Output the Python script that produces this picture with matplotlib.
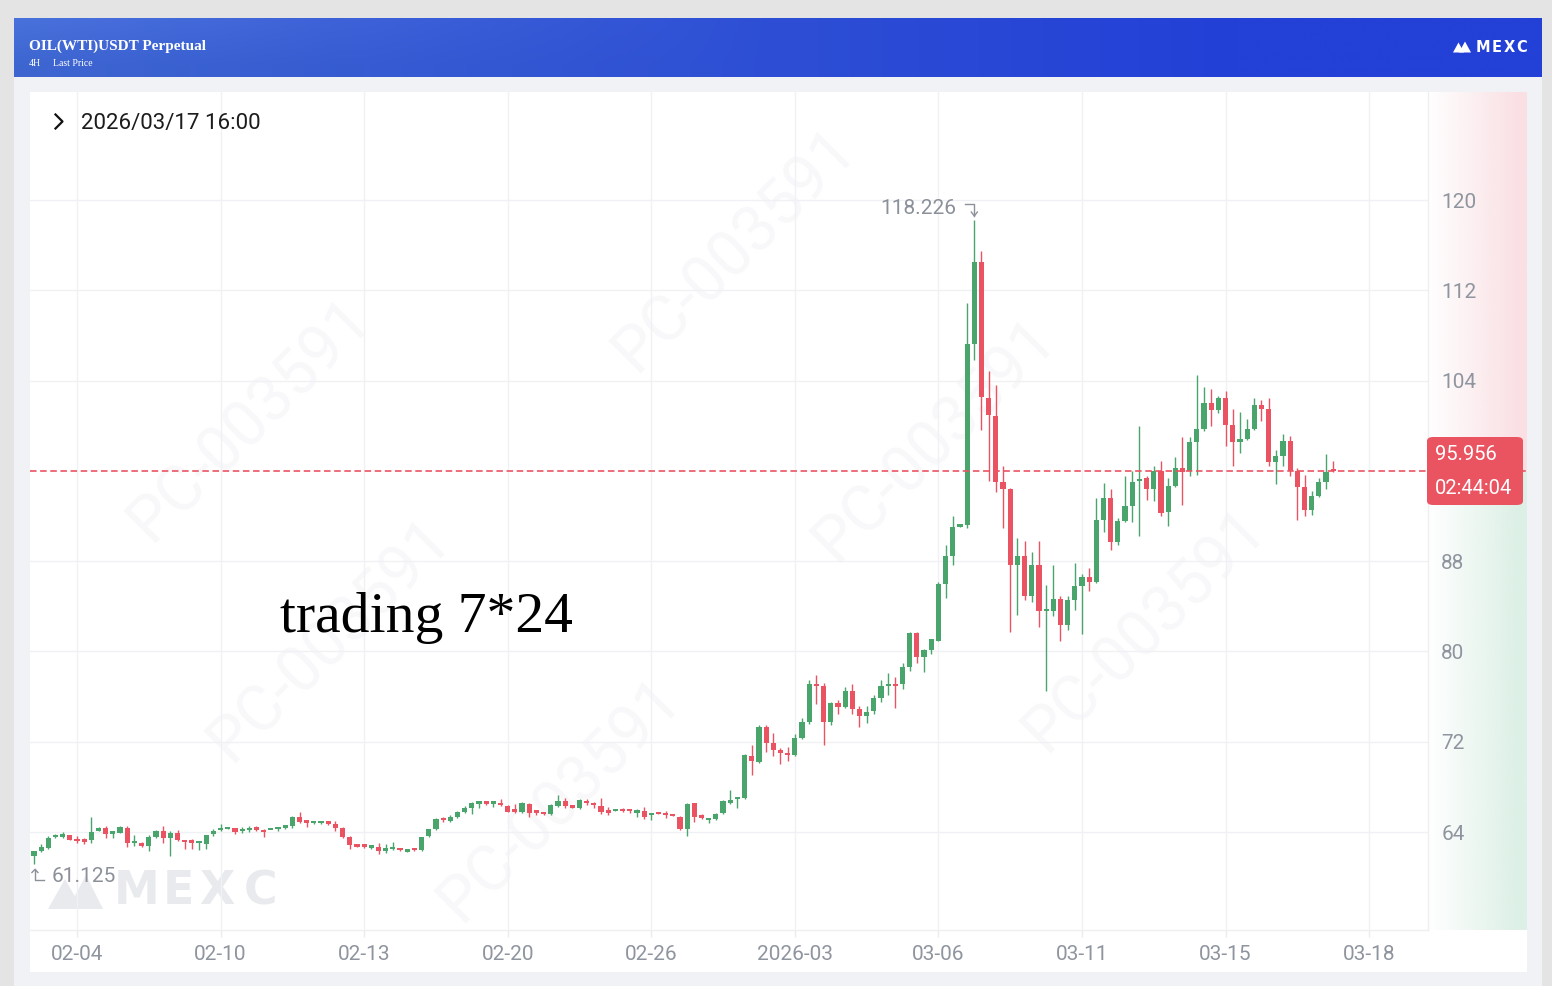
import numpy as np
import matplotlib
matplotlib.use("Agg")
import matplotlib.pyplot as plt
import matplotlib.transforms as mtransforms
from matplotlib.patches import Rectangle, FancyBboxPatch, Polygon
from matplotlib.lines import Line2D

# ---- data (4H candles) ----
opens = [61.85, 61.89, 62.33, 62.56, 63.54, 63.60, 63.71, 63.27, 63.24, 63.27,
         64.10, 64.39, 63.86, 63.95, 64.39, 63.01, 63.07, 62.77, 63.60, 64.10,
         63.45, 63.95, 63.21, 63.27, 63.01, 62.98, 63.80, 64.19, 64.28, 64.33,
         64.10, 64.19, 64.42, 64.10, 64.16, 64.25, 64.39, 64.54, 65.34, 64.89,
         64.78, 64.80, 64.83, 64.75, 64.39, 63.60, 62.77, 62.77, 62.62, 62.65,
         62.33, 62.48, 62.59, 62.27, 62.48, 62.39, 63.66, 64.25, 65.19, 64.98,
         65.37, 65.81, 66.16, 66.52, 66.60, 66.52, 66.60, 66.31, 65.87, 65.81,
         66.46, 65.87, 65.66, 65.57, 66.31, 66.75, 66.25, 66.10, 66.78, 66.46,
         66.31, 65.87, 65.87, 65.96, 65.93, 65.72, 65.87, 65.51, 65.66, 65.57,
         65.48, 65.37, 64.25, 66.55, 65.43, 65.04, 65.19, 65.66, 66.60, 66.90,
         67.05, 70.73, 70.23, 73.30, 71.86, 71.27, 70.88, 70.79, 72.36, 73.74,
         77.08, 76.93, 73.74, 75.46, 75.10, 76.46, 74.87, 74.28, 74.72, 75.84,
         76.96, 77.02, 77.14, 78.64, 81.65, 79.50, 80.09, 80.97, 86.02, 88.49,
         91.06, 91.24, 107.26, 114.54, 102.45, 100.88, 94.98, 94.39, 87.70, 88.49,
         84.90, 87.70, 83.57, 83.57, 84.66, 82.33, 84.54, 85.84, 86.61, 86.16,
         91.68, 93.60, 89.67, 91.53, 92.92, 95.07, 95.37, 94.39, 95.96, 92.33,
         94.69, 96.25, 95.96, 98.52, 99.73, 102.01, 101.36, 102.45, 100.09, 98.52,
         98.82, 99.73, 101.80, 101.50, 96.78, 97.34, 98.61, 95.96, 94.57, 92.51,
         93.75, 95.01, 96.05]
highs = [61.90, 62.36, 62.92, 63.66, 63.80, 64.04, 63.75, 63.66, 63.51, 65.34,
         64.45, 64.54, 64.10, 64.54, 64.51, 63.74, 63.12, 63.71, 64.19, 64.54,
         64.10, 64.19, 63.27, 63.42, 63.21, 63.77, 64.25, 64.69, 64.36, 64.39,
         64.42, 64.54, 64.54, 64.25, 64.22, 64.48, 64.60, 65.43, 65.81, 65.07,
         64.86, 64.86, 64.98, 64.98, 64.48, 63.66, 62.80, 62.92, 62.83, 63.07,
         62.92, 63.12, 62.62, 62.50, 62.50, 63.60, 64.30, 65.28, 65.37, 65.48,
         65.87, 66.31, 66.66, 66.75, 66.75, 66.75, 66.90, 66.40, 66.46, 66.66,
         66.55, 65.96, 65.69, 66.46, 67.25, 67.05, 66.28, 66.96, 66.90, 66.66,
         67.05, 66.25, 65.96, 66.16, 66.07, 66.01, 66.25, 65.72, 65.69, 65.87,
         65.50, 65.43, 66.55, 66.60, 65.57, 65.19, 65.72, 66.84, 67.70, 67.11,
         70.94, 71.68, 73.45, 73.45, 72.80, 71.47, 71.53, 72.65, 74.07, 77.43,
         77.87, 77.23, 75.51, 75.66, 76.87, 77.08, 75.16, 75.16, 76.13, 77.43,
         78.05, 77.73, 79.00, 81.71, 81.71, 80.18, 81.12, 86.13, 89.47, 91.97,
         91.20, 110.86, 118.226, 115.49, 104.81, 103.57, 96.40, 94.50, 90.06, 89.76,
         88.79, 89.76, 85.93, 87.70, 84.90, 84.90, 87.85, 86.90, 87.40, 93.60,
         94.93, 94.39, 91.83, 95.51, 95.96, 99.94, 95.51, 96.46, 96.84, 95.37,
         97.23, 98.97, 98.99, 104.51, 103.42, 103.24, 102.66, 103.04, 101.47, 101.18,
         100.59, 102.45, 102.30, 102.45, 97.88, 99.29, 99.11, 96.25, 95.66, 94.19,
         95.37, 97.52, 96.90]
lows = [61.75, 61.125, 62.25, 62.48, 63.48, 63.51, 63.28, 63.07, 62.92, 63.01,
        64.05, 63.51, 63.51, 63.89, 62.68, 62.77, 62.71, 62.33, 63.51, 63.07,
        61.89, 63.21, 62.48, 62.48, 62.39, 62.48, 63.66, 64.10, 64.25, 63.80,
        63.95, 64.01, 64.10, 63.60, 64.14, 64.10, 64.25, 64.39, 64.78, 64.45,
        64.75, 64.75, 64.60, 64.10, 63.45, 62.48, 62.68, 62.62, 62.48, 62.03,
        62.18, 62.39, 62.36, 62.25, 62.36, 62.36, 63.60, 64.19, 64.89, 64.89,
        65.28, 65.72, 65.57, 66.16, 66.40, 66.25, 66.31, 65.78, 65.72, 65.72,
        65.37, 65.48, 65.54, 65.48, 66.25, 66.16, 66.13, 66.02, 66.40, 66.16,
        65.57, 65.51, 65.84, 65.81, 65.72, 65.37, 65.19, 65.07, 65.57, 65.28,
        65.40, 64.16, 63.66, 64.89, 65.19, 64.78, 65.07, 65.57, 66.46, 66.16,
        66.96, 69.05, 70.15, 71.09, 70.74, 70.00, 70.29, 70.73, 72.21, 73.54,
        75.37, 71.71, 73.48, 74.42, 75.01, 74.42, 73.33, 73.63, 74.42, 75.54,
        76.13, 75.01, 76.64, 78.26, 79.00, 78.20, 79.79, 80.92, 84.75, 87.70,
        91.00, 90.94, 105.84, 99.65, 95.07, 94.10, 90.94, 81.71, 83.27, 84.54,
        84.36, 82.18, 76.49, 83.12, 80.91, 81.89, 83.66, 81.59, 85.34, 86.07,
        90.59, 89.03, 89.47, 91.44, 91.50, 90.27, 93.45, 93.30, 92.03, 91.09,
        94.57, 92.95, 95.57, 95.66, 99.50, 100.00, 101.12, 98.23, 96.46, 97.58,
        98.70, 99.59, 100.38, 96.46, 94.87, 96.46, 95.52, 91.68, 92.03, 92.12,
        93.69, 94.39, 95.90]
closes = [61.78, 62.33, 62.68, 63.51, 63.66, 63.71, 63.30, 63.19, 63.15, 64.04,
          64.39, 63.80, 63.95, 64.45, 63.01, 63.12, 62.77, 63.57, 64.10, 63.45,
          63.95, 63.30, 63.12, 63.07, 63.12, 63.71, 64.10, 64.33, 64.33, 64.04,
          64.25, 64.33, 64.16, 64.01, 64.20, 64.33, 64.48, 65.34, 64.92, 64.83,
          64.83, 64.83, 64.75, 64.39, 63.60, 62.86, 62.71, 62.71, 62.71, 62.33,
          62.62, 62.59, 62.39, 62.48, 62.39, 63.57, 64.25, 65.19, 65.07, 65.37,
          65.81, 66.16, 66.55, 66.60, 66.52, 66.60, 66.40, 65.81, 65.81, 66.55,
          65.66, 65.72, 65.57, 66.37, 66.75, 66.31, 66.16, 66.84, 66.55, 66.37,
          65.78, 65.72, 65.93, 65.87, 65.84, 65.87, 65.34, 65.63, 65.60, 65.48,
          65.42, 64.25, 66.46, 65.37, 65.28, 65.13, 65.63, 66.75, 66.75, 66.99,
          70.82, 70.29, 73.33, 71.86, 71.27, 70.97, 70.79, 72.30, 73.74, 77.08,
          76.93, 73.74, 75.46, 75.07, 76.46, 74.92, 74.28, 74.66, 75.84, 76.93,
          77.08, 76.93, 78.64, 81.65, 79.50, 80.09, 81.06, 86.02, 88.49, 91.00,
          91.18, 107.26, 114.54, 102.51, 100.91, 94.98, 94.39, 87.70, 88.49, 84.90,
          87.70, 83.57, 83.63, 84.66, 82.33, 84.54, 85.84, 86.61, 86.16, 91.68,
          93.60, 89.67, 91.53, 92.92, 95.01, 95.30, 94.39, 95.96, 92.27, 94.69,
          96.25, 95.87, 98.52, 99.73, 102.01, 101.36, 102.45, 100.09, 98.52, 98.82,
          99.73, 101.80, 101.50, 96.78, 97.34, 98.61, 95.96, 94.57, 92.51, 93.75,
          95.01, 95.90, 95.956]

tick_idx = [7, 27, 47, 67, 87, 107, 127, 147, 167, 187]
tick_labels = ["02-04", "02-10", "02-13", "02-20", "02-26",
               "2026-03", "03-06", "03-11", "03-15", "03-18"]
price_ticks = [64, 72, 80, 88, 104, 112, 120]   # 96 sits under the price tag

last_price = 95.956
countdown = "02:44:04"
cursor_time = "2026/03/17 16:00"
symbol = "OIL(WTI)USDT Perpetual"

GREEN = "#4aa56d"
RED = "#ea5462"
GREY_TXT = "#8f959e"
GRID = "#f0f1f4"

plt.rcParams["font.family"] = ["Roboto", "DejaVu Sans"]
plt.rcParams["lines.scale_dashes"] = False

W, H = 1552, 986


def FX(x):
    return x / W


def FY(y):
    return 1 - y / H


def px_axes(fig, x0, y0, x1, y1, **kw):
    return fig.add_axes([FX(x0), FY(y1), (x1 - x0) / W, (y1 - y0) / H], **kw)


fig = plt.figure(figsize=(W / 100, H / 100), dpi=100, facecolor="#e4e4e4")

# background panels
fig.add_artist(Rectangle((FX(14), 0), FX(1542) - FX(14), FY(77), transform=fig.transFigure,
                         facecolor="#f1f2f6", edgecolor="none", zorder=-3))
fig.add_artist(Rectangle((FX(30), FY(972)), FX(1527) - FX(30), FY(92) - FY(972),
                         transform=fig.transFigure, facecolor="white", edgecolor="none", zorder=-2))

# header band with blue gradient
hax = px_axes(fig, 14, 18, 1542, 77, zorder=-1)
gx = np.linspace(0, 1, 600)[None, :]
gy = np.linspace(0, 1, 60)[:, None]
left_c = np.array([62, 102, 208]) / 255
right_c = np.array([35, 64, 215]) / 255
t = np.clip(gx / 0.8, 0, 1)
base = left_c[None, None, :] * (1 - t[..., None]) + right_c[None, None, :] * t[..., None]
base = np.repeat(base, 60, axis=0)
glow = 0.045 * np.clip(1 - gx / 0.5, 0, 1) * np.clip(1 - gy / 0.8, 0, 1)
img = np.clip(base + glow[..., None], 0, 1)
hax.imshow(img, aspect="auto", extent=[0, 1, 0, 1], origin="upper", interpolation="bilinear")
hax.set_axis_off()

fig.text(FX(29), FY(50), symbol, color="white", fontsize=11, fontweight="bold",
         family="Liberation Serif", va="baseline")
fig.text(FX(29), FY(66), "4H", color="white", fontsize=7, family="Liberation Serif", va="baseline")
fig.text(FX(53), FY(66), "Last Price", color="white", fontsize=7, family="Liberation Serif",
         va="baseline")

# MEXC logo in the header
for poly in ([(1453, 52.5), (1458.5, 42.5), (1464, 52.5)], [(1459, 52.5), (1465, 41.5), (1471, 52.5)]):
    fig.add_artist(Polygon([(FX(a), FY(b)) for a, b in poly], closed=True, transform=fig.transFigure,
                           facecolor="white", edgecolor="none", joinstyle="round"))
for ch, cx in zip("MEXC", [1483, 1496.5, 1509.5, 1522]):
    fig.text(FX(cx), FY(47.5), ch, color="white", fontsize=10.5, fontweight="bold",
             family="DejaVu Sans", ha="center", va="center")

# price strip gradient on the right
sax = px_axes(fig, 1428, 92, 1527, 930, zorder=0.5)
ylo, yhi = 55.32, 129.57
rows = np.linspace(ylo, yhi, 500)[:, None]
cols = np.linspace(0, 1, 120)[None, :]
pink = np.array([250, 224, 228]) / 255
mint = np.array([221, 240, 230]) / 255
rgba = np.zeros((500, 120, 4))
rgba[..., :3] = np.where((rows > last_price)[..., None], pink, mint)
rgba[..., 3] = np.clip(cols * 1.1, 0, 1)
sax.imshow(rgba, aspect="auto", extent=[0, 1, ylo, yhi], origin="lower")
sax.axhline(last_price, color=RED, lw=1.2, linestyle=(0, (4.7, 2.6)))
sax.set_xlim(0, 1)
sax.set_ylim(ylo, yhi)
sax.set_axis_off()

# main candle axes
ax = px_axes(fig, 30, 92, 1428, 930, zorder=1)
ax.set_facecolor("none")

o = np.array(opens)
h = np.array(highs)
l = np.array(lows)
c = np.array(closes)
idx = np.arange(len(o))
colors = np.where(c >= o, GREEN, RED)

ax.vlines(idx, l, h, colors=colors, linewidth=1.0, zorder=2)
ax.bar(idx, np.maximum(np.abs(c - o), 0.2), bottom=np.minimum(o, c), width=0.72,
       color=colors, linewidth=0, zorder=3)

ax.axhline(last_price, color=RED, lw=1.2, linestyle=(0, (4.7, 2.6)), zorder=4)

ax.set_xlim(0.452, 195.2)
ax.set_ylim(ylo, yhi)
ax.set_axisbelow(True)
ax.grid(True, color=GRID, linewidth=1.0)
ax.set_xticks(tick_idx, tick_labels)
ax.set_yticks(price_ticks)
ax.yaxis.tick_right()
ax.tick_params(axis="x", length=5, width=1, color="#eaebef", labelsize=15,
               labelcolor=GREY_TXT, pad=6)
ax.tick_params(axis="y", length=0, labelsize=15, labelcolor=GREY_TXT, pad=9.5)
for side in ("top", "left"):
    ax.spines[side].set_visible(False)
for side in ("bottom", "right"):
    ax.spines[side].set_color("#eeeff2")
    ax.spines[side].set_linewidth(1.0)

# faint watermarks behind the candles
for wx, wy in [(330, 640), (560, 800), (735, 250), (935, 440), (1145, 630), (250, 420)]:
    ax.text(FX(wx), FY(wy), "PC-003591", transform=fig.transFigure, rotation=45,
            fontsize=46, color="#f8f8fa", ha="center", va="center", zorder=0)
for poly in ([(48, 909), (65, 879), (82, 909)], [(68, 909), (86, 875), (103, 909)]):
    ax.add_patch(Polygon([(FX(a), FY(b)) for a, b in poly], closed=True, transform=fig.transFigure,
                         facecolor="#e9eaed", edgecolor="none", zorder=0, clip_on=False))
for ch, cx in zip("MEXC", [137, 178, 217, 261]):
    ax.text(FX(cx), FY(892), ch, transform=fig.transFigure, fontsize=33, fontweight="bold",
            family="DejaVu Sans", color="#e9eaed", ha="center", va="center", zorder=0)

# high / low markers
hi_i = int(np.argmax(h))
lo_i = int(np.argmin(l))
mark_col = "#8b9099"
ax.annotate(f"{h[hi_i]:.3f}", (hi_i, h[hi_i]), xytext=(-18, 12), textcoords="offset pixels",
            ha="right", va="center", fontsize=15, color=mark_col)
ht = mtransforms.ScaledTranslation(hi_i, h[hi_i], ax.transData)
ax.add_line(Line2D([-9, 0, 0], [16, 16, 4], transform=ht, color=mark_col, lw=1.0, clip_on=False))
ax.add_line(Line2D([-3, 0, 3], [8, 4, 8], transform=ht, color=mark_col, lw=1.0, clip_on=False))
ax.annotate(f"{l[lo_i]:.3f}", (lo_i, l[lo_i]), xytext=(18, -12.5), textcoords="offset pixels",
            ha="left", va="center", fontsize=15, color=mark_col)
lt = mtransforms.ScaledTranslation(lo_i, l[lo_i], ax.transData)
ax.add_line(Line2D([1, 1, 10], [-5, -16, -16], transform=lt, color=mark_col, lw=1.0, clip_on=False))
ax.add_line(Line2D([-2, 1, 4], [-8, -5, -8], transform=lt, color=mark_col, lw=1.0, clip_on=False))

# cursor time at the top left
fig.add_artist(Line2D([FX(55.5), FX(62.5), FX(55.5)], [FY(114.5), FY(121.5), FY(128.5)],
                      transform=fig.transFigure, color="#111111", lw=1.6))
fig.text(FX(81), FY(123.5), cursor_time, fontsize=16, color="#1c1c1c", va="center")

# caption
fig.text(FX(280), FY(632), "trading 7*24", fontsize=41.5, family="Liberation Serif",
         color="black", va="baseline")

# last price tag
fig.add_artist(FancyBboxPatch((FX(1427), FY(505)), FX(1523) - FX(1427), FY(437) - FY(505),
                              boxstyle="round,pad=0,rounding_size=0.004", transform=fig.transFigure,
                              facecolor="#ea5461", edgecolor="none", zorder=5))
fig.text(FX(1435), FY(454), f"{last_price:.3f}", color="white", fontsize=14.5, va="center", zorder=6)
fig.text(FX(1435), FY(488), countdown, color="white", fontsize=14.5, va="center", zorder=6)

fig.savefig("out.png", dpi=100, facecolor=fig.get_facecolor())
